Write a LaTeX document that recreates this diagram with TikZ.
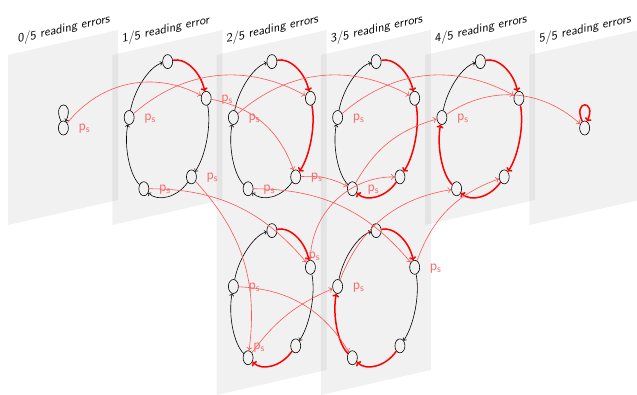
\documentclass[tikz,border=0pt]{standalone}
\usetikzlibrary{arrows.meta,shapes.geometric,calc}

\definecolor{tred}{RGB}{255,85,85}
\definecolor{tredtext}{RGB}{255,105,105}

% Ring of five states on a tilted circle.
% #1,#2 centre, #3 name prefix, #4..#8 styles of the five arcs (clockwise from the top)
\newcommand\statering[8]{%
  \begin{scope}[shift={(#1,#2)},x={(40.5pt,10.1pt)},y={(0pt,67pt)}]
    \foreach \i/\a in {0/90,1/18,2/-54,3/-126,4/-198}
      \node[st] (#3\i) at (\a:1) {};
    \foreach \i/\j/\a/\s in {0/1/90/#4,1/2/18/#5,2/3/-54/#6,3/4/-126/#7,4/0/-198/#8}
      \draw[\s] (#3\i) .. controls (\a-23.4:1.0897) and (\a-48.6:1.0897) .. (#3\j);
  \end{scope}}

\begin{document}
\begin{tikzpicture}[x=1pt,y=-1pt,
  planebg/.style={fill=black,fill opacity=0.055},
  paneltitle/.style={font=\fontsize{12.5}{15}\selectfont\sffamily,anchor=base west,yslant=0.227,inner sep=0pt},
  st/.style={draw=black,ellipse,minimum width=10pt,minimum height=14pt,inner sep=0pt,line width=0.6pt},
  okarc/.style={draw=black,line width=0.6pt,-{To[length=2.5pt,width=4.5pt]}},
  errarc/.style={draw=red,line width=1.5pt,-{To[length=3.5pt,width=7pt]}},
  trline/.style={draw=tred,line width=0.6pt,-{To[length=3.5pt,width=6pt]}},
  pslabel/.style={text=tredtext,font=\fontsize{14}{16}\selectfont,inner sep=0pt}]

\useasboundingbox (0,0) rectangle (637,394);

% tilted planes
\foreach \px/\py in {8/55,112.25/55,216.5/55,320.75/55,425/55,529.25/55,216.5/225,320.75/225}
  \fill[planebg] (\px,\py) -- ++(110,-25) -- ++(0,170) -- ++(-110,25) -- cycle;

% plane headings, slanted with their planes
\node[paneltitle] (t0) at (18,43)     {0/5 reading errors};
\node[paneltitle] (t1) at (122.25,43) {1/5 reading error};
\node[paneltitle] (t2) at (226.5,43)  {2/5 reading errors};
\node[paneltitle] (t3) at (330.75,43) {3/5 reading errors};
\node[paneltitle] (t4) at (435,43)    {4/5 reading errors};
\node[paneltitle] (t5) at (539.25,43) {5/5 reading errors};

% single states with self loops
\node[st] (z0) at (63.4,128) {};
\draw[okarc] (z0.110) .. controls +(-10,-22) and +(10,-22) .. (z0.70);
\node[st] (z5) at (584.65,128) {};
\draw[errarc] (z5.110) .. controls +(-10,-22) and +(10,-22) .. (z5.70);

% rings
\statering{167.65}{128.6}{a}{errarc}{okarc}{okarc}{okarc}{okarc}
\statering{271.9}{128.6}{b}{errarc}{errarc}{okarc}{okarc}{okarc}
\statering{376.15}{128.6}{c}{errarc}{errarc}{errarc}{okarc}{okarc}
\statering{480.4}{128.6}{d}{errarc}{errarc}{errarc}{errarc}{okarc}
\statering{271.9}{297.6}{e}{errarc}{okarc}{errarc}{okarc}{okarc}
\statering{376.15}{297.6}{f}{errarc}{okarc}{errarc}{errarc}{okarc}

% transitions between planes
\draw[trline] (z0) to[bend left=40] (a1);
\draw[trline] (a4) to[bend left=35] (b1);
\draw[trline] (b4) to[bend left=35] (c1);
\draw[trline] (c4) to[bend left=35] (d1);
\draw[trline] (d4) to[bend left=38] (z5);
\draw[trline] (a1) to[bend left=30] (b2);
\draw[trline] (a2) to[bend left=25] (e3);
\draw[trline] (a3) to[bend left=25] (e1);
\draw[trline] (b2) to[bend left=15] (c3);
\draw[trline] (b3) to[bend left=25] (f1);
\draw[trline] (e1) to[bend left=45] (c2);
\draw[trline] (e3) to[bend left=15] (f4);
\draw[trline] (e4) to[bend left=28] (f3);
\draw[trline] (c3) to[bend left=22] (d4);
\draw[trline] (f1) to[bend left=25] (d2);
\draw[trline] (f4) to[bend left=30] (d3);

% transition labels
\foreach \n in {z0,a1,a2,a3,a4,b2,b3,b4,c3,c4,d4,e4,f1,f4}
  \node[pslabel] (ps\n) at ($(\n)+(21,1)$) {$\mathsf{p}_\mathsf{s}$};
\node[pslabel] (pse1) at ($(e1)+(4,-11)$) {$\mathsf{p}_\mathsf{s}$};
\node[pslabel] (pse3) at ($(e3)+(11,-10)$) {$\mathsf{p}_\mathsf{s}$};

\end{tikzpicture}
\end{document}
